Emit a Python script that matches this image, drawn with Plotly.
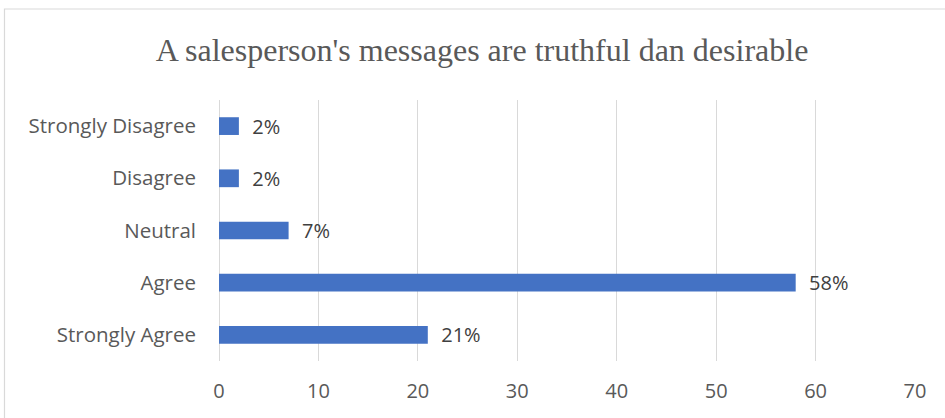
import plotly.graph_objects as go

categories = ["Strongly Disagree", "Disagree", "Neutral", "Agree", "Strongly Agree"]
values = [2, 2, 7, 58, 21]
labels = ["2%", "2%", "7%", "58%", "21%"]
x_ticks = [0, 10, 20, 30, 40, 50, 60, 70]

W, H = 945, 418
L, R, T, B = 219, 30, 100, 57
pw, ph = W - L - R, H - T - B

fig = go.Figure(go.Bar(
    y=categories, x=values, orientation="h",
    marker=dict(color="#4472C4", line=dict(width=0)),
    width=0.34,
    text=labels, texttemplate="  %{text}", textposition="outside", cliponaxis=False,
    constraintext="none",
    textfont=dict(family="Open Sans", size=20, color="#404040"),
))

fig.update_layout(
    width=W, height=H,
    margin=dict(l=L, r=R, t=T, b=B),
    paper_bgcolor="white", plot_bgcolor="white",
    showlegend=False,
    title=dict(text="A salesperson's messages are truthful dan desirable",
               x=(482) / W, xanchor="center", y=1 - 50 / H, yanchor="middle",
               font=dict(family="Liberation Serif", size=32, color="#595959")),
    xaxis=dict(range=[0, 70], tickvals=x_ticks, showgrid=True, gridcolor="#d9d9d9",
               gridwidth=1, zeroline=True, zerolinecolor="#d9d9d9", zerolinewidth=1,
               showline=False, ticks="", ticklen=0,
               tickfont=dict(family="Open Sans", size=20, color="#595959")),
    yaxis=dict(categoryorder="array", categoryarray=categories[::-1],
               range=[-0.5, 4.5], showgrid=False, zeroline=False, showline=False,
               ticks="", ticklabelstandoff=22,
               tickfont=dict(family="Open Sans", size=20.5, color="#595959")),
)
fig.update_xaxes(ticklabelstandoff=16)

fig.add_shape(type="rect", xref="paper", yref="paper",
              x0=(4.5 - L) / pw, x1=(W + 10 - L) / pw,
              y0=(H - T - B - (H + 10 - T)) / ph, y1=(H - B - 9) / ph,
              line=dict(color="#d9d9d9", width=1.2), fillcolor="rgba(0,0,0,0)", layer="below")

fig.write_html("out.html")
